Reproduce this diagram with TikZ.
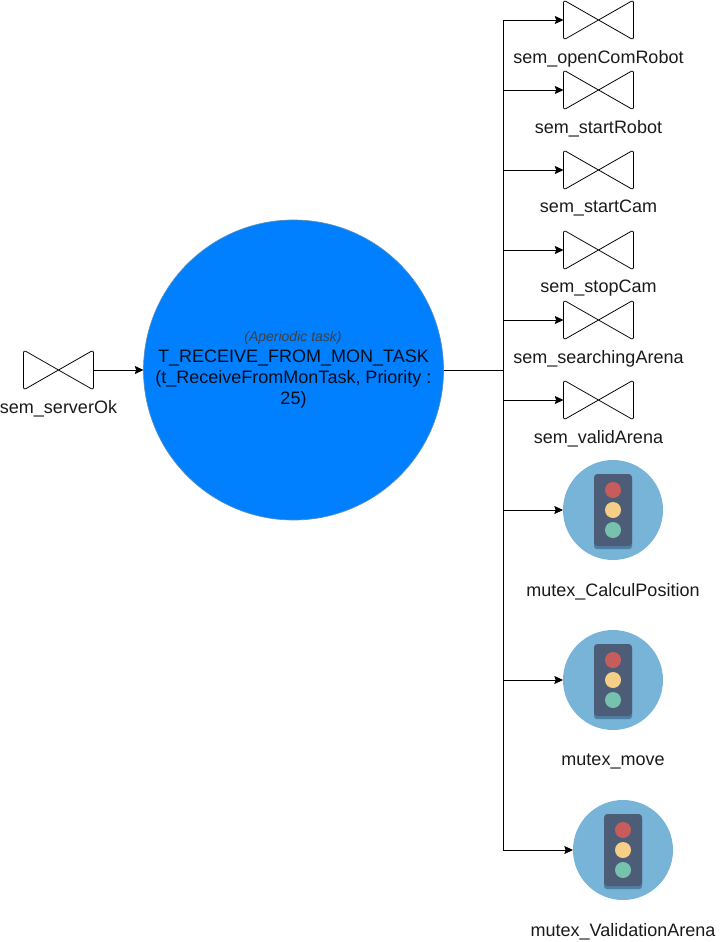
\documentclass[tikz,border=0pt]{standalone}
\usepackage{fontspec}
\setmainfont{Liberation Sans}
\usetikzlibrary{arrows.meta}
\definecolor{taskblue}{HTML}{007FFF}
\definecolor{taskedge}{HTML}{5A8FC0}
\definecolor{lightbg}{HTML}{78B4D8}
\definecolor{lightbody}{HTML}{4D5D78}
\definecolor{lightshadow}{HTML}{4E7FA4}
\definecolor{lightred}{HTML}{C75C5C}
\definecolor{lightyellow}{HTML}{F5CF87}
\definecolor{lightgreen}{HTML}{76C2AF}
\definecolor{textdark}{HTML}{1A1A1A}
\tikzset{
  x=0.75pt,y=-0.75pt,
  bowbox/.style={minimum width=52.5pt,minimum height=30pt,inner sep=0pt,outer sep=0pt},
  bowshape/.style={draw=black,line width=0.6pt,fill=white,rounded corners=2pt},
  lab/.style={font=\fontsize{13.5}{16}\selectfont,text=textdark,inner sep=0pt},
  lightbox/.style={circle,fill=lightbg,minimum size=75pt,inner sep=0pt,outer sep=0pt},
  conn/.style={draw=black,line width=0.6pt},
  arr/.style={conn,-{Stealth[length=6.5pt,width=6pt,inset=1pt]}},
  bulb/.style={circle,minimum size=12pt,inner sep=0pt},
}
\newcommand{\mybow}[3]{%
  \node[bowbox] (#1) at (#2,#3) {};
  \draw[bowshape] (#1.north west) -- (#1.south east) -- (#1.north east) -- (#1.south west) -- cycle;
}
\newcommand{\trafficlight}[3]{%
  \node[lightbox] (#1) at (#2,#3) {};
  \fill[lightshadow,rounded corners=2pt] (#2-19,#3-33) rectangle (#2+19,#3+39);
  \fill[lightbody,rounded corners=2.5pt] (#2-19,#3-36) rectangle (#2+19,#3+36);
  \node[bulb,fill=lightred] (#1r) at (#2,#3-20) {};
  \node[bulb,fill=lightyellow] (#1y) at (#2,#3) {};
  \node[bulb,fill=lightgreen] (#1g) at (#2,#3+20) {};
}
\begin{document}
\begin{tikzpicture}
\useasboundingbox (0,0) rectangle (724,942);
\node[circle,fill=taskblue,draw=taskedge,line width=0.5pt,minimum size=225pt,inner sep=0pt,outer sep=0pt] (task) at (293.5,370) {};
\node[lab,font=\fontsize{10.5}{12}\selectfont\itshape,text=black!75] (tasktype) at (293,338) {(Aperiodic task)};
\node[lab,text=black!90!taskblue,align=center,font=\fontsize{13.5}{15.75}\selectfont] (taskname) at (293.5,379.5) {T\_RECEIVE\_FROM\_MON\_TASK\\(t\_ReceiveFromMonTask, Priority :\\25)};

\mybow{ok}{58.5}{370}
\node[lab] (okl) at (58.5,408.5) {sem\_serverOk};
\mybow{a}{598.5}{20}
\node[lab] (al) at (598.5,58.5) {sem\_openComRobot};
\mybow{b}{598.5}{90}
\node[lab] (bl) at (598.5,128.5) {sem\_startRobot};
\mybow{c}{598.5}{170}
\node[lab] (cl) at (598.5,208.5) {sem\_startCam};
\mybow{d}{598.5}{250}
\node[lab] (dl) at (598.5,288.5) {sem\_stopCam};
\mybow{e}{598.5}{320}
\node[lab] (el) at (598.5,358.5) {sem\_searchingArena};
\mybow{f}{598.5}{400}
\node[lab] (fl) at (598.5,438.5) {sem\_validArena};

\trafficlight{m}{613}{510}
\node[lab] (ml) at (613,591.5) {mutex\_CalculPosition};
\trafficlight{n}{613}{680}
\node[lab] (nl) at (613,761.5) {mutex\_move};
\trafficlight{o}{623}{850}
\node[lab] (ol) at (623,931.5) {mutex\_ValidationArena};

\coordinate (trunk) at (503.5,370);
\draw[arr] (ok.east) -- (task.west);
\draw[conn] (task.east) -- (trunk);
\foreach \t in {a,b,c,d,e,f,m,n,o}{
  \draw[arr] (trunk) |- (\t.west);
}
\end{tikzpicture}
\end{document}
